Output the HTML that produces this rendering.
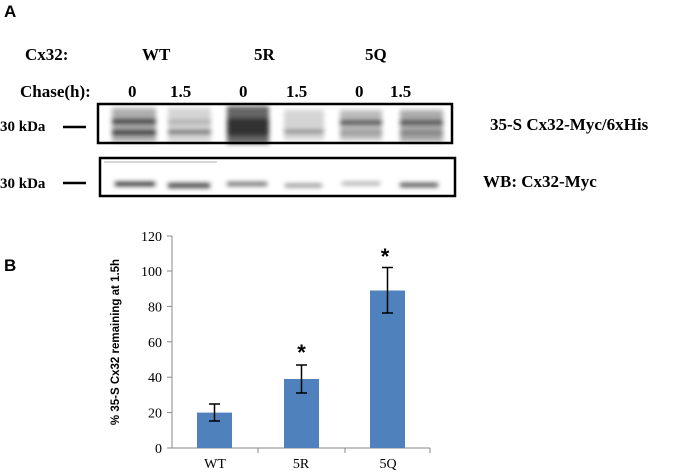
<!DOCTYPE html>
<html><head><style>body{margin:0;background:#fff}svg{display:block}.s{font-family:"Liberation Serif","DejaVu Serif",serif}.a{font-family:"Liberation Sans","DejaVu Sans",sans-serif}</style></head><body>
<svg width="685" height="473" xmlns="http://www.w3.org/2000/svg">
<defs>
<filter id="b" x="-30%" y="-80%" width="160%" height="260%"><feGaussianBlur stdDeviation="2.5"/></filter>
</defs>
<text class="a" x="4" y="17" font-weight="bold" font-size="17">A</text>
<g class="s" font-weight="bold" font-size="17">
<text x="25" y="60">Cx32:</text>
<text x="142" y="60">WT</text>
<text x="254" y="60">5R</text>
<text x="365" y="60">5Q</text>
<text x="20" y="97">Chase(h):</text>
<text x="128" y="97">0</text>
<text x="170" y="97">1.5</text>
<text x="239" y="97">0</text>
<text x="286" y="97">1.5</text>
<text x="355" y="97">0</text>
<text x="390" y="97">1.5</text>
<text x="0" y="131" font-size="15">30 kDa</text>
<text x="0" y="188" font-size="15">30 kDa</text>
<text x="490" y="130">35-S Cx32-Myc/6xHis</text>
<text x="483" y="187">WB: Cx32-Myc</text>
</g>
<line x1="63" y1="127" x2="86" y2="127" stroke="#000" stroke-width="2.5"/>
<line x1="63" y1="183" x2="86" y2="183" stroke="#000" stroke-width="2.5"/>
<g filter="url(#b)">
<rect x="112" y="108" width="44" height="34" fill="#999" opacity="0.8"/>
<rect x="112" y="119" width="44" height="5" fill="#333"/>
<rect x="112" y="130" width="44" height="5" fill="#222"/>
<rect x="168" y="108" width="43" height="34" fill="#d4d4d4"/>
<rect x="168" y="130" width="43" height="4" fill="#555"/>
<rect x="168" y="120" width="43" height="4" fill="#aaa"/>
<rect x="227" y="106" width="42" height="38" fill="#666"/>
<rect x="227" y="118" width="42" height="18" fill="#333"/>
<rect x="284" y="110" width="40" height="30" fill="#d4d4d4"/>
<rect x="284" y="130" width="40" height="3" fill="#666"/>
<rect x="340" y="110" width="42" height="30" fill="#bbb"/>
<rect x="340" y="120" width="42" height="5" fill="#444"/>
<rect x="340" y="131" width="42" height="3" fill="#888"/>
<rect x="400" y="110" width="43" height="32" fill="#aaa"/>
<rect x="400" y="120" width="43" height="5" fill="#444"/>
<rect x="400" y="131" width="43" height="4" fill="#777"/>
<rect x="115" y="182" width="40" height="4" fill="#222"/>
<rect x="168" y="183" width="42" height="5" fill="#444"/>
<rect x="227" y="182" width="40" height="4" fill="#666"/>
<rect x="285" y="184" width="37" height="3" fill="#777"/>
<rect x="342" y="182" width="38" height="3" fill="#999"/>
<rect x="400" y="183" width="38" height="4" fill="#444"/>
</g>
<rect x="98" y="104" width="354" height="39" fill="none" stroke="#000" stroke-width="2.5"/>
<rect x="100" y="158" width="355" height="38" fill="none" stroke="#000" stroke-width="2.5"/>
<line x1="104" y1="162" x2="217" y2="162" stroke="#999" stroke-width="0.8"/>
<text class="a" x="4" y="271" font-weight="bold" font-size="17">B</text>
<g stroke="#888" stroke-width="1">
<line x1="172" y1="236" x2="172" y2="448"/>
<line x1="172" y1="448" x2="430" y2="448"/>
<line x1="167" y1="448" x2="172" y2="448"/><line x1="167" y1="412.6" x2="172" y2="412.6"/><line x1="167" y1="377.2" x2="172" y2="377.2"/><line x1="167" y1="341.8" x2="172" y2="341.8"/><line x1="167" y1="306.4" x2="172" y2="306.4"/><line x1="167" y1="271" x2="172" y2="271"/><line x1="167" y1="236" x2="172" y2="236"/>
<line x1="258" y1="448" x2="258" y2="453"/><line x1="345" y1="448" x2="345" y2="453"/><line x1="430" y1="448" x2="430" y2="453"/>
</g>
<g class="s" font-size="14" text-anchor="end">
<text x="162" y="453">0</text><text x="162" y="417.6">20</text><text x="162" y="382.2">40</text><text x="162" y="346.8">60</text><text x="162" y="311.4">80</text><text x="162" y="276">100</text><text x="162" y="241">120</text>
</g>
<g class="s" font-size="14" text-anchor="middle">
<text x="215" y="468">WT</text><text x="301" y="468">5R</text><text x="388" y="468">5Q</text>
</g>
<text class="a" transform="translate(119,342) rotate(-90)" text-anchor="middle" font-weight="bold" font-size="11.5">% 35-S Cx32 remaining at 1.5h</text>
<g fill="#4f81bd">
<rect x="197" y="412.6" width="35" height="35.4"/>
<rect x="284" y="379" width="35" height="69"/>
<rect x="370" y="290.5" width="35" height="157.5"/>
</g>
<g stroke="#000" stroke-width="1.5">
<line x1="214.5" y1="404" x2="214.5" y2="421"/><line x1="209" y1="404" x2="220" y2="404"/><line x1="209" y1="421" x2="220" y2="421"/>
<line x1="301.5" y1="365" x2="301.5" y2="393"/><line x1="296" y1="365" x2="307" y2="365"/><line x1="296" y1="393" x2="307" y2="393"/>
<line x1="387.5" y1="267.5" x2="387.5" y2="313"/><line x1="382" y1="267.5" x2="393" y2="267.5"/><line x1="382" y1="313" x2="393" y2="313"/>
</g>
<g class="a" font-weight="bold" font-size="22" text-anchor="middle">
<text x="301.5" y="360">*</text><text x="385" y="264">*</text>
</g>
</svg>
</body></html>
